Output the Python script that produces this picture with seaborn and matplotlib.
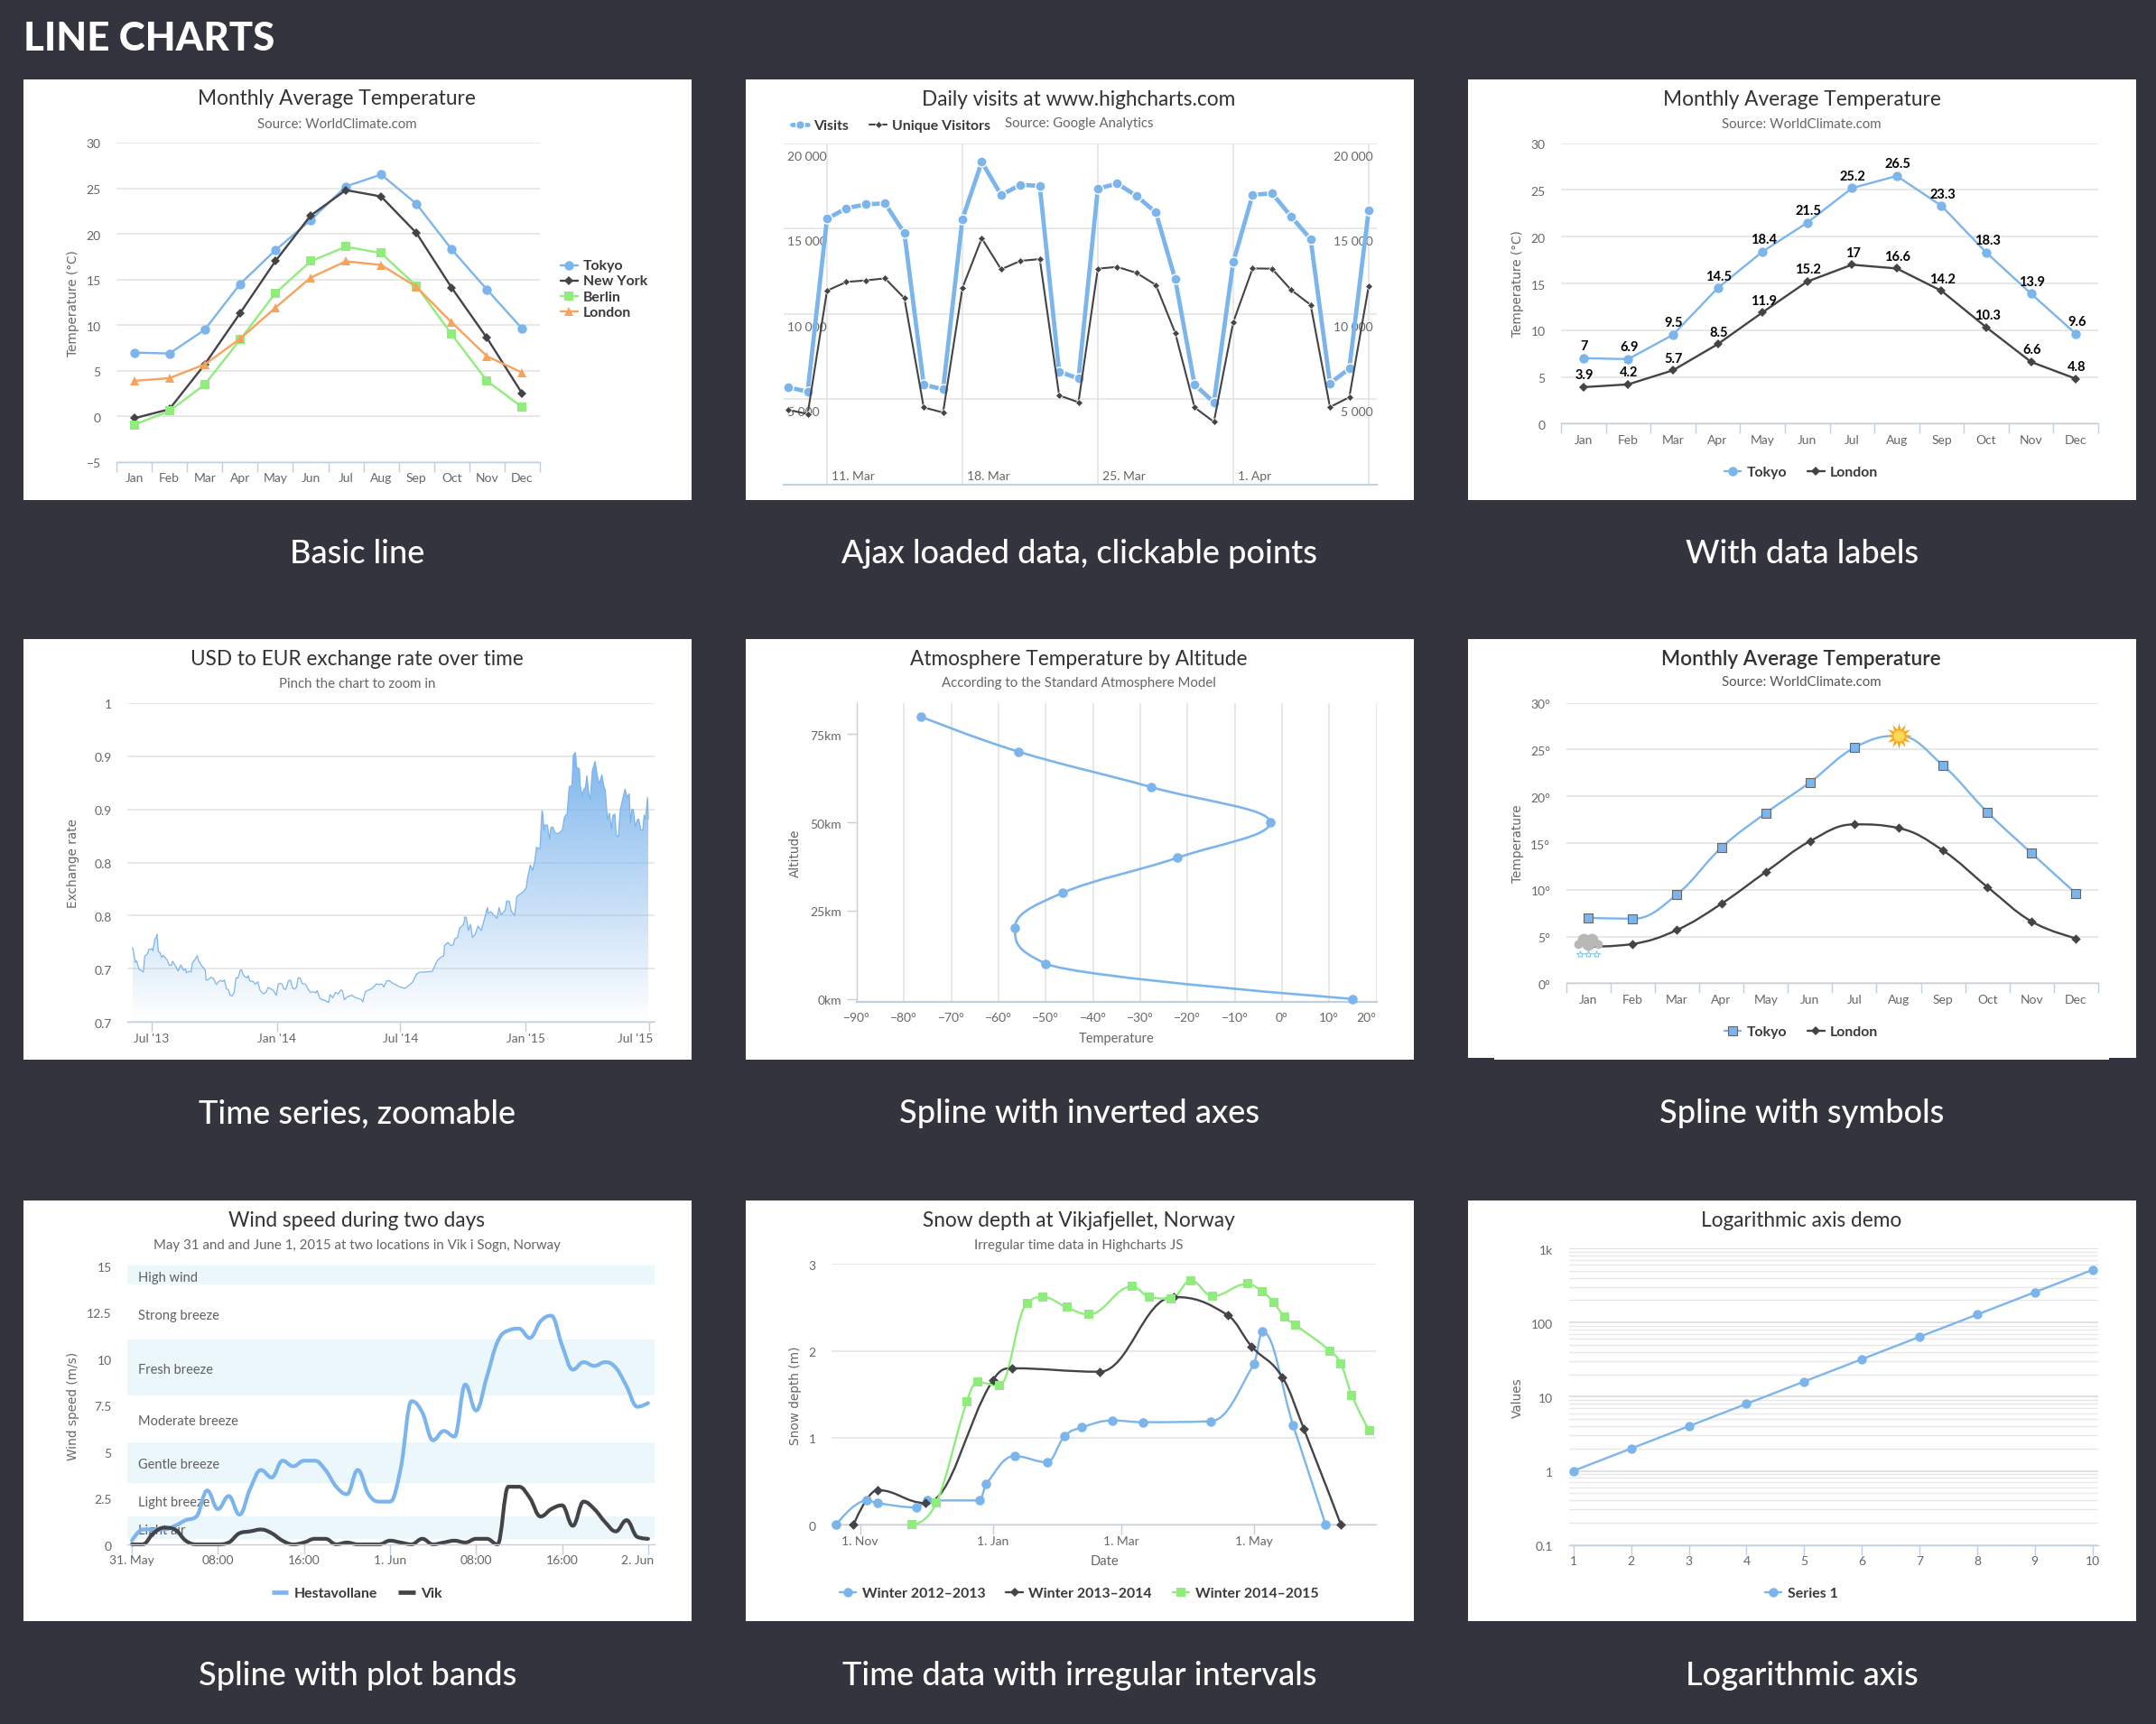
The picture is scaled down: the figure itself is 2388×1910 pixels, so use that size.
import pandas as pd
import seaborn as sns
import matplotlib
matplotlib.use('Agg')
import matplotlib.pyplot as plt
from matplotlib.lines import Line2D
from matplotlib.patches import PathPatch, Rectangle
from matplotlib.path import Path
from matplotlib.ticker import LogLocator, NullFormatter
from matplotlib.transforms import ScaledTranslation, offset_copy
import numpy as np

# ---------- data ----------
months = ['Jan', 'Feb', 'Mar', 'Apr', 'May', 'Jun', 'Jul', 'Aug', 'Sep', 'Oct', 'Nov', 'Dec']
tokyo = [7.0, 6.9, 9.5, 14.5, 18.2, 21.5, 25.2, 26.5, 23.3, 18.3, 13.9, 9.6]
new_york = [-0.2, 0.8, 5.7, 11.3, 17.0, 22.0, 24.8, 24.1, 20.1, 14.1, 8.6, 2.5]
berlin = [-0.9, 0.6, 3.5, 8.4, 13.5, 17.0, 18.6, 17.9, 14.3, 9.0, 3.9, 1.0]
london = [3.9, 4.2, 5.7, 8.5, 11.9, 15.2, 17.0, 16.6, 14.2, 10.3, 6.6, 4.8]
tokyo_labelled = [7, 6.9, 9.5, 14.5, 18.4, 21.5, 25.2, 26.5, 23.3, 18.3, 13.9, 9.6]

# daily visits, first point is 9 March
visits = [5697, 5432, 15573, 16191, 16420, 16473, 14727, 5855, 5573, 15556, 18907, 16967, 17566, 17496, 6614, 6208,
          17337, 17637, 16914, 15944, 12028, 5855, 4815, 13034, 16967, 17073, 15697, 14374, 5926, 6790, 16067]
unique_visitors = [4374, 4127, 11358, 11870, 11958, 12081, 10917, 4515, 4215, 11517, 14427, 12610, 13104, 13210,
                   5221, 4815, 12646, 12752, 12399, 11693, 8889, 4515, 3668, 9506, 12663, 12646, 11394, 10529,
                   4533, 5115, 11605]
visit_week_days = [2, 9, 16, 23, 30]
visit_week_labels = ['11. Mar', '18. Mar', '25. Mar', '1. Apr']
visit_ticks = [5000, 10000, 15000, 20000]
visit_tick_labels = ['5 000', '10 000', '15 000', '20 000']

# exchange rate: days since 1 Jul 2013
fx_days = [-28, -26, -24, -22, -18, -15, -12, -10, -6, -4, 1, 2, 5, 7, 8, 10, 12, 15, 17, 23, 26, 29, 31, 35, 39, 43,
           47, 50, 51, 55, 58, 60, 64, 67, 69, 73, 77, 79, 80, 84, 87, 91, 95, 98, 102, 104, 107, 110, 113, 115, 118,
           121, 124, 127, 130, 132, 135, 140, 142, 144, 149, 152, 156, 159, 164, 168, 171, 175, 179, 183, 186, 189,
           192, 194, 197, 201, 204, 207, 210, 213, 215, 218, 221, 226, 230, 233, 238, 241, 243, 247, 250, 255, 260,
           262, 266, 270, 274, 278, 280, 283, 288, 294, 299, 303, 308, 310, 314, 321, 325, 330, 334, 338, 341, 345,
           349, 354, 358, 361, 364, 372, 383, 389, 394, 403, 412, 416, 420, 425, 429, 430, 435, 439, 443, 445, 449,
           452, 458, 460, 462, 465, 468, 471, 475, 479, 484, 489, 493, 494, 498, 502, 507, 510, 513, 519, 521, 525,
           528, 533, 536, 541, 546, 550, 552, 556, 559, 562, 565, 570, 573, 574, 576, 577, 581, 584, 586, 589, 592,
           597, 603, 606, 610, 613, 617, 619, 622, 624, 628, 629, 632, 634, 637, 639, 642, 644, 647, 651, 654, 657,
           661, 664, 666, 669, 672, 675, 677, 680, 682, 685, 688, 691, 695, 698, 701, 703, 705, 707, 710, 713, 715,
           718, 721, 723, 725, 728, 729]
fx_rate = [.7698, .7647, .7562, .7576, .7491, .7486, .7469, .7618, .7641, .7683, .7689, .7669, .7782, .7797, .7825,
           .7661, .7658, .7607, .7627, .7584, .7534, .7534, .7570, .7528, .7480, .7536, .7486, .7500, .7463, .7477,
           .7471, .7556, .7590, .7624, .7579, .7534, .7505, .7486, .7395, .7401, .7421, .7409, .7353, .7378, .7392,
           .7381, .7395, .7313, .7302, .7254, .7245, .7274, .7415, .7415, .7486, .7491, .7437, .7415, .7435, .7387,
           .7381, .7358, .7378, .7302, .7265, .7279, .7324, .7313, .7296, .7251, .7358, .7364, .7353, .7313, .7307,
           .7387, .7392, .7319, .7310, .7330, .7415, .7415, .7364, .7353, .7307, .7279, .7285, .7274, .7296, .7223,
           .7211, .7203, .7183, .7259, .7228, .7279, .7265, .7302, .7296, .7211, .7240, .7251, .7231, .7223, .7211,
           .7189, .7288, .7307, .7324, .7358, .7353, .7358, .7330, .7387, .7389, .7364, .7353, .7341, .7331, .7316,
           .7373, .7452, .7469, .7471, .7477, .7533, .7584, .7612, .7624, .7720, .7748, .7720, .7726, .7782, .7794,
           .7881, .7918, .7989, .7980, .7861, .7918, .7796, .7825, .7901, .7861, .7980, .8079, .8022, .8037, .8008,
           .7974, .8076, .8008, .8051, .8136, .8136, .8042, .8003, .8178, .8206, .8226, .8263, .8362, .8475, .8427,
           .8495, .8644, .8625, .8984, .8970, .8800, .8851, .8851, .8715, .8828, .8834, .8777, .8772, .8806, .8927,
           .8961, .9210, .9224, .9507, .9535, .9394, .9379, .9230, .9125, .9182, .9210, .9314, .9139, .9097, .9365,
           .9450, .9323, .9238, .9323, .9210, .9182, .8907, .8964, .8814, .8941, .8955, .8757, .8738, .8998, .9083,
           .9190, .9111, .9145, .8871, .8998, .8998, .8834, .8899, .8907, .8806, .8806, .8947, .8907, .9111, .8907]
fx_ticks = [0.7, 0.75, 0.8, 0.85, 0.9, 0.95, 1.0]
fx_tick_labels = ['0.7', '0.7', '0.8', '0.8', '0.9', '0.9', '1']
fx_month_days = [0, 184, 365, 549, 730]
fx_month_labels = ["Jul '13", "Jan '14", "Jul '14", "Jan '15", "Jul '15"]

altitude = [0, 10, 20, 30, 40, 50, 60, 70, 80]
air_temp = [15, -50, -56.5, -46.5, -22.1, -2.5, -27.7, -55.7, -76.5]
temp_ticks = list(range(-90, 21, 10))
temp_tick_labels = ['\u2212%d\u00b0' % abs(t) if t < 0 else '%d\u00b0' % t for t in temp_ticks]

hestavollane = [0.2, 0.8, 0.8, 0.8, 1, 1.3, 1.5, 2.9, 1.9, 2.6, 1.6, 3, 4, 3.6, 4.5, 4.2, 4.5, 4.5, 4, 3.1, 2.7, 4,
                2.7, 2.3, 2.3, 4.1, 7.7, 7.1, 5.6, 6.1, 5.8, 8.6, 7.2, 9, 10.9, 11.5, 11.6, 11.1, 12, 12.3, 10.7,
                9.4, 9.8, 9.6, 9.8, 9.5, 8.5, 7.4, 7.6]
vik = [0, 0, 0.6, 0.9, 0.8, 0.2, 0, 0, 0, 0.1, 0.6, 0.7, 0.8, 0.6, 0.2, 0, 0.1, 0.3, 0.3, 0, 0.1, 0, 0, 0, 0.2, 0.1,
       0, 0.3, 0, 0.1, 0.2, 0.1, 0.3, 0.3, 0, 3.1, 3.1, 2.5, 1.5, 1.9, 2.1, 1, 2.3, 1.9, 1.2, 0.7, 1.3, 0.4, 0.3]
wind_hours = [0, 8, 16, 24, 32, 40, 48]
wind_hour_labels = ['31. May', '08:00', '16:00', '1. Jun', '08:00', '16:00', '2. Jun']
band_low = [0.3, 3.3, 8, 14]
band_high = [1.5, 5.5, 11, 15]
band_names = ['High wind', 'Strong breeze', 'Fresh breeze', 'Moderate breeze', 'Gentle breeze', 'Light breeze', 'Light air']
band_name_y = [14.3, 12.3, 9.35, 6.6, 4.27, 2.22, 0.72]

snow_dates_12 = ['1970-10-21', '1970-11-04', '1970-11-09', '1970-11-27', '1970-12-02', '1970-12-26', '1970-12-29',
                 '1971-01-11', '1971-01-26', '1971-02-03', '1971-02-11', '1971-02-25', '1971-03-11', '1971-04-11',
                 '1971-05-01', '1971-05-05', '1971-05-19', '1971-06-03']
snow_depth_12 = [0, 0.28, 0.25, 0.2, 0.28, 0.28, 0.47, 0.79, 0.72, 1.02, 1.12, 1.2, 1.18, 1.19, 1.85, 2.22, 1.15, 0]
snow_dates_13 = ['1970-10-29', '1970-11-09', '1970-12-01', '1971-01-01', '1971-01-10', '1971-02-19', '1971-03-25',
                 '1971-04-19', '1971-04-30', '1971-05-14', '1971-05-24', '1971-06-10']
snow_depth_13 = [0, 0.4, 0.25, 1.66, 1.8, 1.76, 2.62, 2.41, 2.05, 1.7, 1.1, 0]
snow_dates_14 = ['1970-11-25', '1970-12-06', '1970-12-20', '1970-12-25', '1971-01-04', '1971-01-17', '1971-01-24',
                 '1971-02-04', '1971-02-14', '1971-03-06', '1971-03-14', '1971-03-24', '1971-04-02', '1971-04-12',
                 '1971-04-28', '1971-05-05', '1971-05-10', '1971-05-15', '1971-05-20', '1971-06-05', '1971-06-10',
                 '1971-06-15', '1971-06-23']
snow_depth_14 = [0, 0.25, 1.41, 1.64, 1.6, 2.55, 2.62, 2.5, 2.42, 2.74, 2.62, 2.6, 2.81, 2.63, 2.77, 2.68, 2.56,
                 2.39, 2.3, 2, 1.85, 1.49, 1.08]
snow_tick_dates = ['1970-11-01', '1971-01-01', '1971-03-01', '1971-05-01']
snow_tick_labels = ['1. Nov', '1. Jan', '1. Mar', '1. May']

log_x = [1, 2, 3, 4, 5, 6, 7, 8, 9, 10]
log_y = [1, 2, 4, 8, 16, 32, 64, 128, 256, 512]
log_ticks = [0.1, 1, 10, 100, 1000]
log_tick_labels = ['0.1', '1', '10', '100', '1k']

captions = ['Basic line', 'Ajax loaded data, clickable points', 'With data labels',
            'Time series, zoomable', 'Spline with inverted axes', 'Spline with symbols',
            'Spline with plot bands', 'Time data with irregular intervals', 'Logarithmic axis']

# ---------- style ----------
W, H = 2388, 1910
BG = '#34343e'
BLUE = '#7cb5ec'
DARK = '#434348'
GREEN = '#90ed7d'
ORANGE = '#f7a35c'
GRID = '#e2e2e2'
AXIS = '#c0d0e0'
LABEL = '#666666'

sns.set_theme(style='white')
plt.rcParams['font.family'] = ['Lato', 'DejaVu Sans']
plt.rcParams['axes.facecolor'] = 'none'

fig = plt.figure(figsize=(W / 100, H / 100), dpi=100, facecolor=BG)
PT = 0.72  # one pixel in points


def put_text(x, y, s, size=10, color=LABEL, ha='center', **kw):
    return fig.text(x / W, 1 - (y + 1.5) / H, s, fontsize=size, color=color, ha=ha, va='center', **kw)


def panel(x0, y0, x1, y1):
    fig.add_artist(Rectangle((x0 / W, 1 - y1 / H), (x1 - x0) / W, (y1 - y0) / H, transform=fig.transFigure,
                             facecolor='white', edgecolor='none', zorder=-1))


def plot_axes(x0, y0, x1, y1, xlim, ylim):
    ax = fig.add_axes([x0 / W, 1 - y1 / H, (x1 - x0) / W, (y1 - y0) / H])
    ax.set_xlim(*xlim)
    ax.set_ylim(*ylim)
    ax.set_axisbelow(True)
    for side in ['top', 'left', 'right']:
        ax.spines[side].set_visible(False)
    ax.spines['bottom'].set_color(AXIS)
    ax.spines['bottom'].set_linewidth(1.0)
    ax.tick_params(axis='y', length=0, pad=12.5, labelsize=10, labelcolor=LABEL)
    ax.tick_params(axis='x', length=8, width=1, color=AXIS, bottom=True, pad=0.8, labelsize=10, labelcolor=LABEL)
    return ax


def hgrid(ax):
    ax.yaxis.grid(True, color=GRID, lw=1.1)


def month_axis(ax):
    ax.set_xticks(range(12), months)
    ax.set_xticks(np.arange(-0.5, 12), minor=True)
    ax.tick_params(axis='x', which='major', length=0, pad=8.8)
    ax.tick_params(axis='x', which='minor', length=8, width=1, color=AXIS, bottom=True)


def shift_last_label(ax, dx):
    lab = ax.get_xticklabels()[-1]
    lab.set_transform(lab.get_transform() + ScaledTranslation(dx * PT / 72, 0, fig.dpi_scale_trans))


def spline(ax, xs, ys, color, lw, swap=False, zorder=2):
    # bezier control points the way the original chart library builds its splines
    n = len(xs)
    right = (xs[0], ys[0])
    verts = [(xs[0], ys[0])]
    codes = [Path.MOVETO]
    for i in range(1, n):
        x, y = xs[i], ys[i]
        if i < n - 1:
            lx, ly = xs[i - 1], ys[i - 1]
            nx, ny = xs[i + 1], ys[i + 1]
            c1x, c1y = (1.5 * x + lx) / 2.5, (1.5 * y + ly) / 2.5
            c2x, c2y = (1.5 * x + nx) / 2.5, (1.5 * y + ny) / 2.5
            fix = (c2y - c1y) * (c2x - x) / (c2x - c1x) + y - c2y
            c1y += fix
            c2y += fix
            if c1y > ly and c1y > y:
                c1y = max(ly, y)
                c2y = 2 * y - c1y
            elif c1y < ly and c1y < y:
                c1y = min(ly, y)
                c2y = 2 * y - c1y
            if c2y > ny and c2y > y:
                c2y = max(ny, y)
                c1y = 2 * y - c2y
            elif c2y < ny and c2y < y:
                c2y = min(ny, y)
                c1y = 2 * y - c2y
        else:
            c1x, c1y, c2x, c2y = x, y, x, y
        verts += [right, (c1x, c1y), (x, y)]
        codes += [Path.CURVE4] * 3
        right = (c2x, c2y)
    if swap:
        verts = [(b, a) for a, b in verts]
    ax.add_patch(PathPatch(Path(verts, codes), fill=False, edgecolor=color, lw=lw, zorder=zorder,
                           clip_on=False, capstyle='round', joinstyle='round'))


def line(ax, xs, ys, color, marker, ms, lw=1.7, **kw):
    sns.lineplot(x=xs, y=ys, color=color, marker=marker, markersize=ms, linewidth=lw, estimator=None, sort=False,
                 markeredgewidth=kw.pop('mew', 0), clip_on=False, ax=ax, legend=False, **kw)


def key(color, marker, label, ms=7.5, lw=1.7, **kw):
    return Line2D([], [], color=color, marker=marker, markersize=ms, lw=lw, markeredgewidth=kw.pop('mew', 0),
                  label=label, **kw)


def legend(ax, handles, cx, cy, ncol=1, spacing=1.45):
    ax.legend(handles=handles, loc='center', bbox_to_anchor=(cx / W, 1 - (cy + 1) / H), bbox_transform=fig.transFigure,
              ncol=ncol, frameon=False, prop={'weight': 'bold', 'size': 11.4}, labelcolor='#3a3a3a',
              handlelength=1.18, handletextpad=0.4, columnspacing=spacing, labelspacing=0.2, borderpad=0,
              borderaxespad=0)


def ytitle(x, y, s):
    put_text(x + 2, y, s, size=9.8, rotation=90, family='DejaVu Sans')


# ---------- page furniture ----------
put_text(26, 41, 'LINE CHARTS', size=31.5, color='white', ha='left', weight='black')
col_x = [(26, 766), (826, 1566), (1626, 2366)]
row_y = [(88, 554), (708, 1174), (1330, 1796)]
cap_y = [612.5, 1232.5, 1854.5]
cap_x = [396, 1196, 1996]
for r, (y0, y1) in enumerate(row_y):
    for c, (x0, x1) in enumerate(col_x):
        # the symbols panel ends a little higher, only a narrower strip reaches the full height
        panel(x0, y0, x1, 1172 if (r, c) == (1, 2) else y1)
        put_text(cap_x[c], cap_y[r], captions[r * 3 + c], size=26, color='white', weight='medium')
panel(1655, 1172, 2336, 1174)

TITLE = 16.3
SUB = 10.8

# ---------- basic line ----------
put_text(373, 108.5, 'Monthly Average Temperature', size=TITLE, color='#333333')
put_text(373, 136, 'Source: WorldClimate.com', size=SUB)
ax = plot_axes(129, 158, 598, 512, (-0.5, 11.5), (-5, 30))
hgrid(ax)
ax.set_yticks(range(-5, 31, 5), ['\u22125', '0', '5', '10', '15', '20', '25', '30'])
month_axis(ax)
idx = list(range(12))
line(ax, idx, tokyo, BLUE, 'o', 7.5)
line(ax, idx, new_york, DARK, 'D', 5)
line(ax, idx, berlin, GREEN, 's', 7.5)
line(ax, idx, london, ORANGE, '^', 7.5)
ax.set(xlabel='', ylabel='')
legend(ax, [key(BLUE, 'o', 'Tokyo'), key(DARK, 'D', 'New York', 5), key(GREEN, 's', 'Berlin'),
            key(ORANGE, '^', 'London')], 669, 320)
ytitle(79, 335, 'Temperature (\u00b0C)')

# ---------- ajax loaded ----------
put_text(1195, 109, 'Daily visits at www.highcharts.com', size=TITLE, color='#333333')
put_text(1195, 136, 'Source: Google Analytics', size=SUB)
ax = plot_axes(868, 158.7, 1524.5, 536.7, (-0.24, 30.4), (0, 20000))
ax.spines['bottom'].set_linewidth(1.5)
hgrid(ax)
ax.xaxis.grid(True, color=GRID, lw=1.1)
ax.set_yticks(visit_ticks, [])
ax.set_xticks(visit_week_days, [])
ax.tick_params(axis='x', length=0)
for v, s in zip(visit_ticks, visit_tick_labels):
    ax.annotate(s, (0, v), xycoords=ax.get_yaxis_transform(), xytext=(3.5 * PT, -15 * PT),
                textcoords='offset points', ha='left', va='center', fontsize=10, color=LABEL, zorder=1)
    ax.annotate(s, (1, v), xycoords=ax.get_yaxis_transform(), xytext=(-4 * PT, -15 * PT),
                textcoords='offset points', ha='right', va='center', fontsize=10, color=LABEL, zorder=1)
for d, s in zip(visit_week_days, visit_week_labels):
    ax.annotate(s, (d, 0), xycoords=ax.get_xaxis_transform(), xytext=(5 * PT, 9 * PT),
                textcoords='offset points', ha='left', va='center', fontsize=10, color=LABEL, zorder=1)
days = list(range(len(visits)))
line(ax, days, visits, BLUE, 'o', 8, lw=3.4, markeredgecolor='white', mew=1)
line(ax, days, unique_visitors, DARK, 'D', 4.5, lw=1.5, markeredgecolor='white', mew=0.5)
ax.set(xlabel='', ylabel='')
legend(ax, [key(BLUE, 'o', 'Visits', 7, 3.4, markeredgecolor='white', mew=1),
            key(DARK, 'D', 'Unique Visitors', 4.5, 1.5, markeredgecolor='white', mew=0.5)], 987, 139, ncol=2)

# ---------- with data labels ----------
put_text(1995.5, 109, 'Monthly Average Temperature', size=TITLE, color='#333333')
put_text(1995.5, 136, 'Source: WorldClimate.com', size=SUB)
ax = plot_axes(1729, 158.7, 2324, 469.3, (-0.5, 11.5), (0, 30))
hgrid(ax)
ax.set_yticks(range(0, 31, 5))
month_axis(ax)
line(ax, idx, tokyo_labelled, BLUE, 'o', 7.5)
line(ax, idx, london, DARK, 'D', 5.5)
ax.set(xlabel='', ylabel='')
for series in (tokyo_labelled, london):
    for i, v in zip(idx, series):
        ax.annotate('%g' % v, (i, v), xytext=(1 * PT, 12.5 * PT), textcoords='offset points', ha='center',
                    va='center', fontsize=10.5, weight='bold', color='black')
legend(ax, [key(BLUE, 'o', 'Tokyo'), key(DARK, 'D', 'London', 5.5)], 1995, 523, ncol=2)
ytitle(1679, 313, 'Temperature (\u00b0C)')

# ---------- time series ----------
put_text(395.5, 729, 'USD to EUR exchange rate over time', size=TITLE, color='#333333')
put_text(395.5, 756, 'Pinch the chart to zoom in', size=SUB)
ax = plot_axes(141, 778.7, 724.5, 1132.3, (-35.6, 737.6), (0.7, 1.0))
hgrid(ax)
ax.set_yticks(fx_ticks, fx_tick_labels)
ax.set_xticks(fx_month_days, fx_month_labels)
shift_last_label(ax, -15)
fill = ax.fill_between(fx_days, fx_rate, 0.7, facecolor='none', edgecolor='none')
alpha = np.linspace(0.98, 0.0, 256)
grad = np.ones((256, 1, 4))
grad[:, 0, :3] = matplotlib.colors.to_rgb(BLUE)
grad[:, 0, 3] = alpha
im = ax.imshow(grad, extent=(min(fx_days), max(fx_days), 0.7, max(fx_rate)), aspect='auto', zorder=1, origin='upper')
im.set_clip_path(fill.get_paths()[0], transform=ax.transData)
ax.set_xlim(-35.6, 737.6)
ax.set_ylim(0.7, 1.0)
sns.lineplot(x=fx_days, y=fx_rate, color=BLUE, linewidth=0.9, estimator=None, sort=False, ax=ax, zorder=2)
ax.set(xlabel='', ylabel='')
ytitle(79, 955, 'Exchange rate')

# ---------- inverted axes ----------
put_text(1195, 729, 'Atmosphere Temperature by Altitude', size=TITLE, color='#333333')
put_text(1195, 756, 'According to the Standard Atmosphere Model', size=SUB)
ax = plot_axes(949, 779.3, 1524.5, 1110, (-90, 20), (-0.85, 83.7))
ax.spines['left'].set_visible(True)
ax.spines['left'].set_color(AXIS)
ax.spines['left'].set_linewidth(1.0)
ax.spines['bottom'].set_linewidth(1.6)
ax.xaxis.grid(True, color=GRID, lw=1.1)
ax.set_xticks(temp_ticks, temp_tick_labels)
ax.set_yticks([0, 25, 50, 75], ['0km', '25km', '50km', '75km'])
ax.tick_params(axis='x', length=0, pad=8.8)
ax.tick_params(axis='y', length=8, width=1, color=AXIS, left=True, pad=4.5)
shift_last_label(ax, -11)
spline(ax, altitude, air_temp, BLUE, 1.9, swap=True)
sns.scatterplot(x=air_temp, y=altitude, color=BLUE, s=58, linewidth=0, zorder=3, clip_on=False, ax=ax)
ax.set(xlabel='', ylabel='')
put_text(1236.7, 1149, 'Temperature', size=10.5)
ytitle(879, 944, 'Altitude')

# ---------- spline with symbols ----------
put_text(1995, 729, 'Monthly Average Temperature', size=TITLE, color='#333333', weight='semibold')
put_text(1995, 755, 'Source: WorldClimate.com', size=SUB, color='#555555')
ax = plot_axes(1734.7, 778.7, 2324, 1089.3, (-0.5, 11.5), (0, 30))
hgrid(ax)
ax.set_yticks(range(0, 31, 5), ['%d\u00b0' % t for t in range(0, 31, 5)])
month_axis(ax)
spline(ax, idx, tokyo, BLUE, 1.7)
spline(ax, idx, london, DARK, 1.7)
sns.scatterplot(x=idx[:7] + idx[8:], y=tokyo[:7] + tokyo[8:], marker='s', color=BLUE, s=56, edgecolor='#666666',
                linewidth=0.8, zorder=3, ax=ax)
sns.scatterplot(x=idx[1:], y=london[1:], marker='D', color=DARK, s=28, linewidth=0, zorder=3, ax=ax)
# sun on the warmest month
ax.plot(idx[7], tokyo[7], marker=(12, 1, 0), ms=21, color='#f7a823', mew=0, zorder=4)
ax.plot(idx[7], tokyo[7], marker='o', ms=9, color='#ffd858', mew=0, zorder=5)
# cloud and snow on the coldest month
for dx, dy, ms in [(-11, 3, 7), (-5, 8, 10), (4, 8, 10), (11, 3, 7), (0, 3, 10)]:
    tr = offset_copy(ax.transData, fig=fig, x=dx, y=dy, units='dots')
    ax.plot(idx[0], london[0], marker='o', ms=ms, color='#b8b8b8', mew=0, transform=tr, zorder=4)
for dx in (-9, 0, 9):
    tr = offset_copy(ax.transData, fig=fig, x=dx, y=-8, units='dots')
    ax.plot(idx[0], london[0], marker='*', ms=6, mfc='white', mec='#86cdee', mew=0.8, transform=tr, zorder=4)
ax.set(xlabel='', ylabel='')
legend(ax, [key(BLUE, 's', 'Tokyo', 6.5, markeredgecolor='#666666', mew=0.8), key(DARK, 'D', 'London', 5)],
       1995, 1143, ncol=2)
ytitle(1679, 933, 'Temperature')

# ---------- plot bands ----------
put_text(395, 1351, 'Wind speed during two days', size=TITLE, color='#333333')
put_text(395, 1378, 'May 31 and and June 1, 2015 at two locations in Vik i Sogn, Norway', size=SUB)
ax = plot_axes(141, 1402, 724.5, 1711, (-0.43, 48.56), (0, 15))
for lo, hi in zip(band_low, band_high):
    ax.axhspan(lo, hi, color='#ecf7fb', lw=0, zorder=0)
for name, y in zip(band_names, band_name_y):
    ax.text(0.02, y, name, transform=ax.get_yaxis_transform(), fontsize=10.5, color='#606060', va='center', zorder=1)
ax.set_yticks([0, 2.5, 5, 7.5, 10, 12.5, 15], ['0', '2.5', '5', '7.5', '10', '12.5', '15'])
ax.set_xticks(wind_hours, wind_hour_labels)
shift_last_label(ax, -12)
hours = list(range(len(vik)))
spline(ax, hours, hestavollane, BLUE, 3.0)
spline(ax, hours, vik, DARK, 3.0)
legend(ax, [Line2D([], [], color=BLUE, lw=3.4, solid_capstyle='butt', label='Hestavollane'),
            Line2D([], [], color=DARK, lw=3.4, solid_capstyle='butt', label='Vik')], 395, 1765, ncol=2)
ytitle(79, 1556, 'Wind speed (m/s)')

# ---------- irregular intervals ----------
put_text(1195, 1351, 'Snow depth at Vikjafjellet, Norway', size=TITLE, color='#333333')
put_text(1195, 1378, 'Irregular time data in Highcharts JS', size=SUB)
ax = plot_axes(921, 1400.3, 1524.5, 1689.3, (-13.1, 237.3), (0, 3))
hgrid(ax)
ax.set_yticks([0, 1, 2, 3])
origin = pd.Timestamp('1970-11-01')


def day_numbers(dates):
    return [int((d - origin).days) for d in pd.to_datetime(dates)]


ax.set_xticks(day_numbers(snow_tick_dates), snow_tick_labels)
x12, x13, x14 = day_numbers(snow_dates_12), day_numbers(snow_dates_13), day_numbers(snow_dates_14)
spline(ax, x12, snow_depth_12, BLUE, 1.7)
spline(ax, x13, snow_depth_13, DARK, 1.7)
spline(ax, x14, snow_depth_14, GREEN, 1.7)
sns.scatterplot(x=x12, y=snow_depth_12, marker='o', color=BLUE, s=58, linewidth=0, zorder=3, clip_on=False, ax=ax)
sns.scatterplot(x=x13, y=snow_depth_13, marker='D', color=DARK, s=30, linewidth=0, zorder=3, clip_on=False, ax=ax)
sns.scatterplot(x=x14, y=snow_depth_14, marker='s', color=GREEN, s=58, linewidth=0, zorder=3, clip_on=False, ax=ax)
ax.set(xlabel='', ylabel='')
legend(ax, [key(BLUE, 'o', 'Winter 2012\u20132013'), key(DARK, 'D', 'Winter 2013\u20132014', 5),
            key(GREEN, 's', 'Winter 2014\u20132015')], 1195, 1765, ncol=3)
put_text(1223, 1728, 'Date', size=10.5)
ytitle(879, 1545, 'Snow depth (m)')

# ---------- log axis ----------
put_text(1995, 1351, 'Logarithmic axis demo', size=TITLE, color='#333333')
ax = plot_axes(1737.7, 1383, 2324, 1711.7, (0.92, 10.1), (0.1, 1000))
ax.set_yscale('log')
ax.set_ylim(0.1, 1000)
ax.set_yticks(log_ticks, log_tick_labels)
ax.yaxis.set_minor_locator(LogLocator(base=10, subs=range(2, 10), numticks=12))
ax.yaxis.set_minor_formatter(NullFormatter())
ax.tick_params(axis='y', which='minor', length=0)
ax.yaxis.grid(True, which='major', color='#dcdcdc', lw=1.2)
ax.yaxis.grid(True, which='minor', color='#e8e8e8', lw=1.0)
ax.set_xticks(log_x, [str(v) for v in log_x])
line(ax, log_x, log_y, BLUE, 'o', 7.5)
ax.set(xlabel='', ylabel='')
legend(ax, [key(BLUE, 'o', 'Series 1')], 1995, 1765)
ytitle(1679, 1547, 'Values')

# y tick labels sit a little under their grid lines
for a in fig.axes:
    for lab in a.get_yticklabels():
        lab.set_transform(lab.get_transform() + ScaledTranslation(0, -1.5 * PT / 72, fig.dpi_scale_trans))

fig.savefig('out.png', dpi=100, facecolor=BG)
